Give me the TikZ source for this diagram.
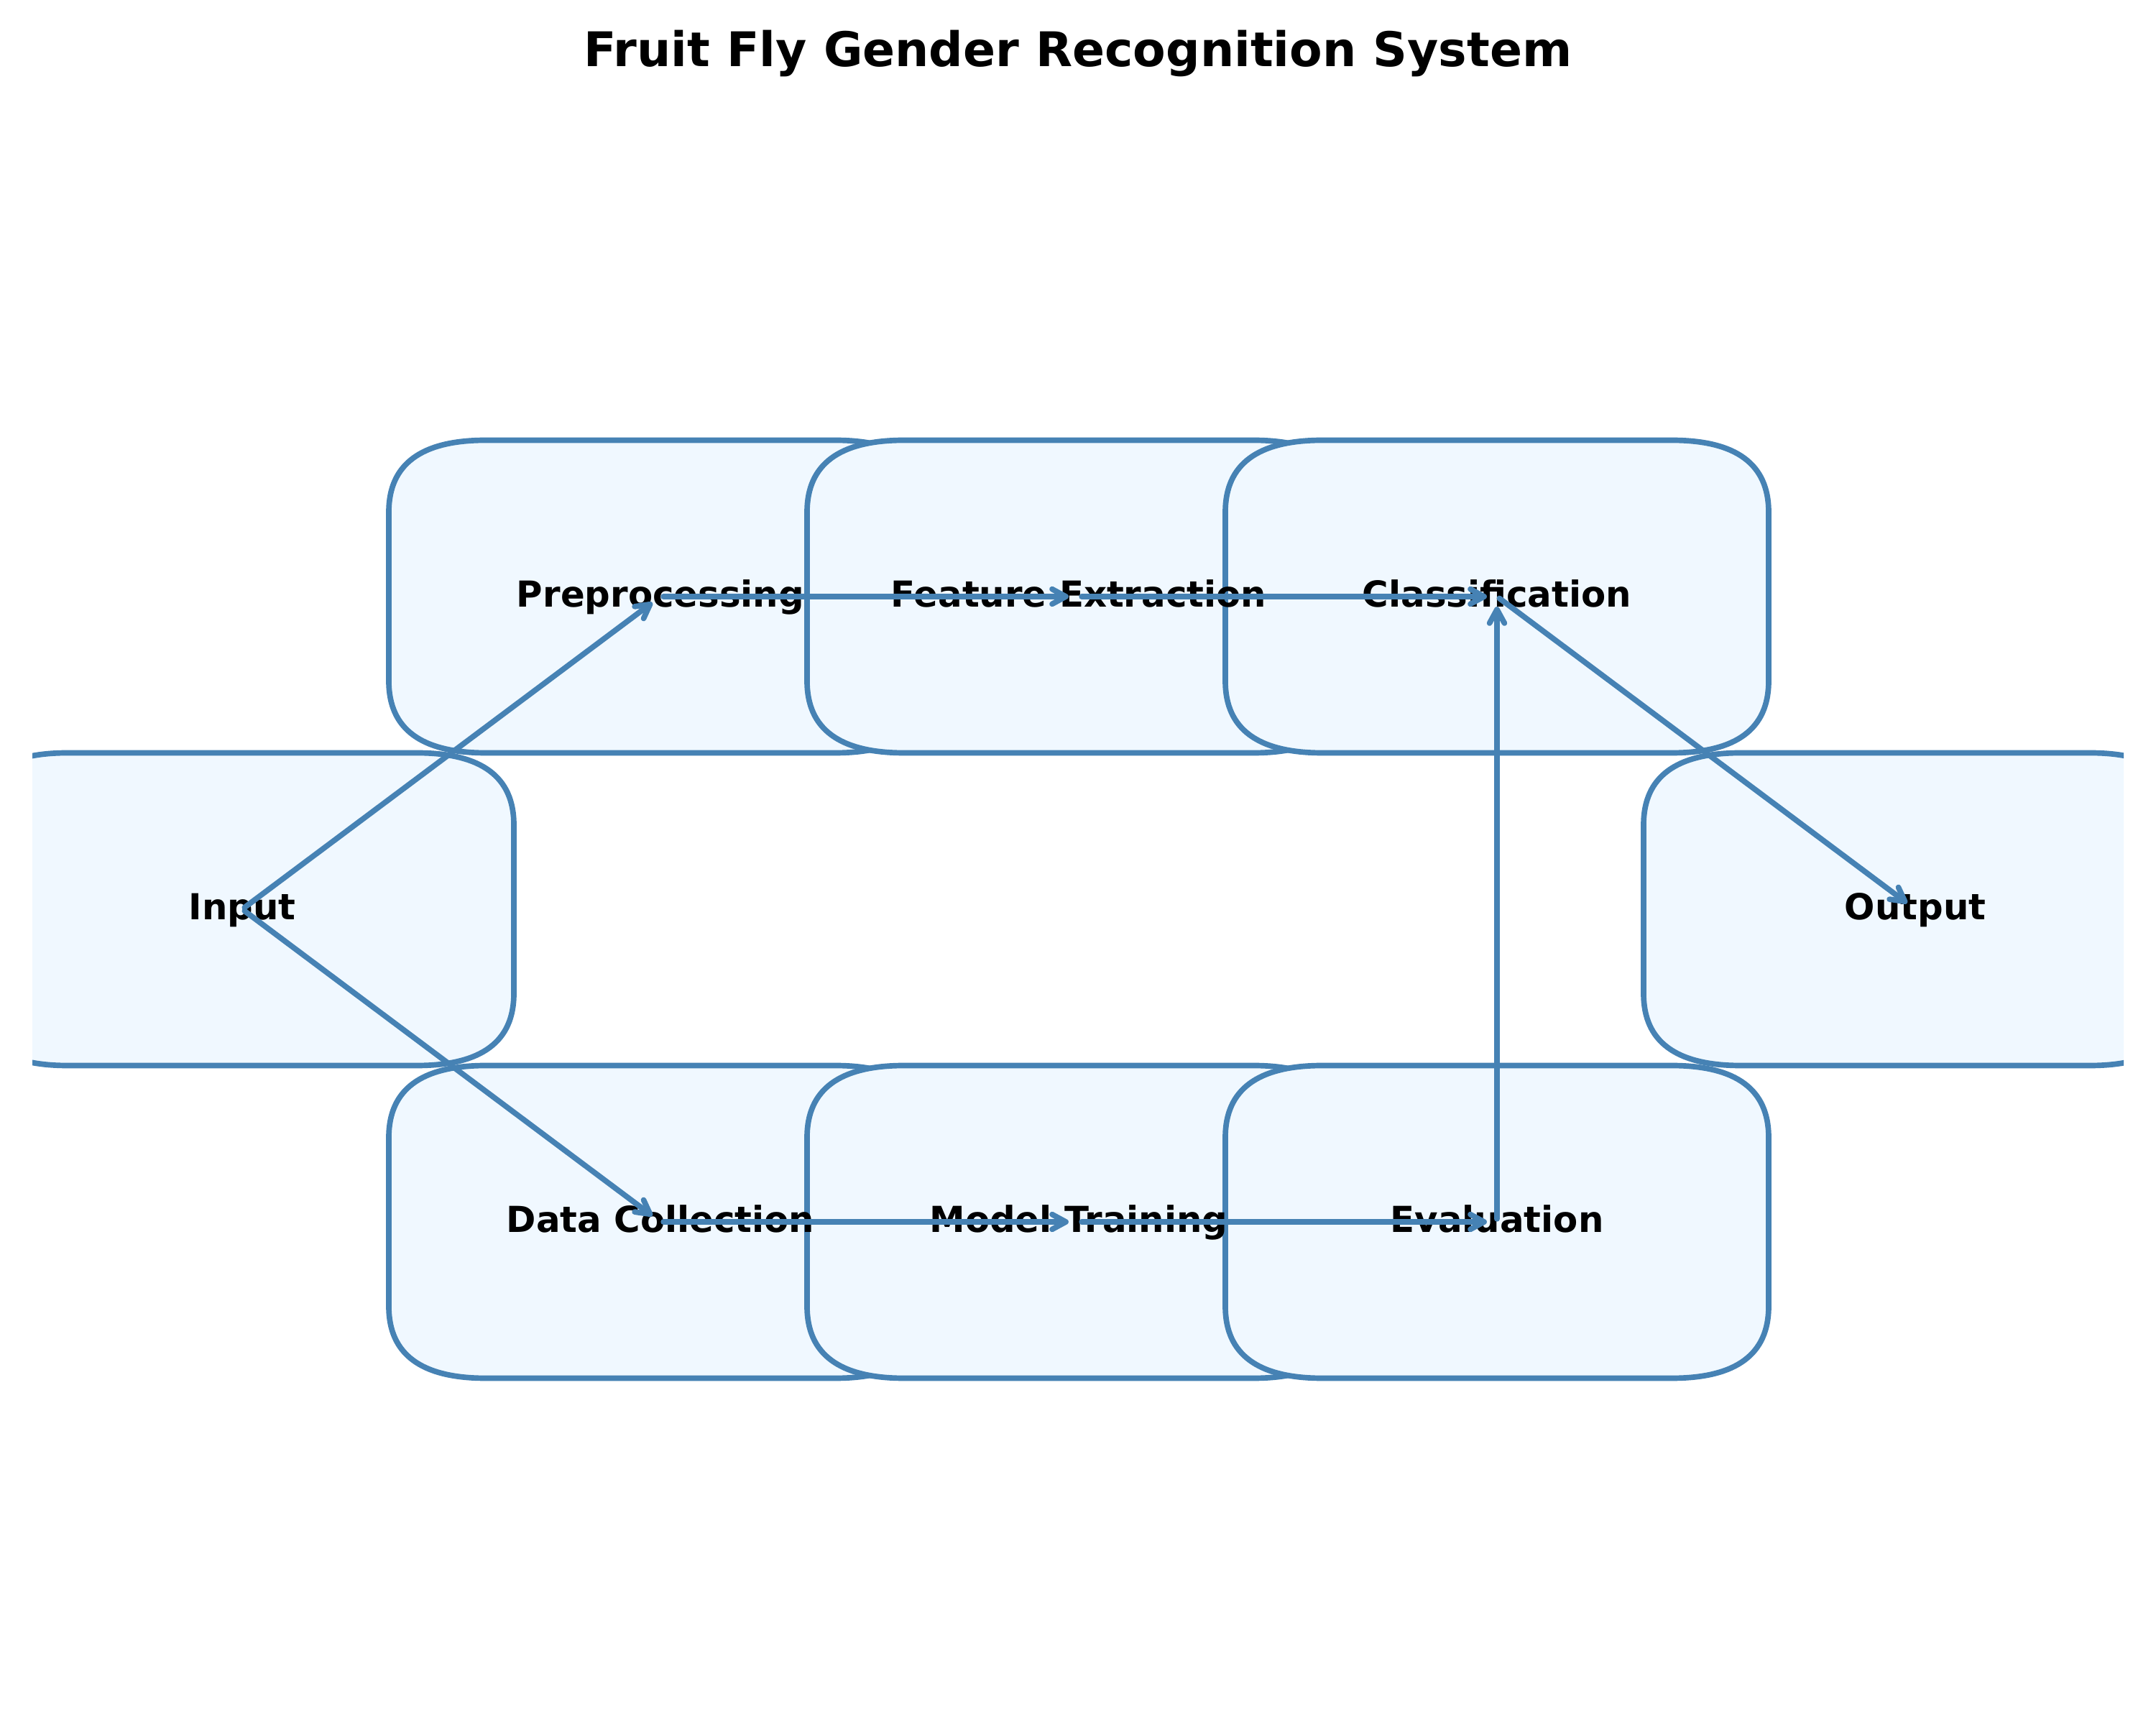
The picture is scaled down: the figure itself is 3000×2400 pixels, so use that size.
\documentclass[tikz,border=0pt]{standalone}
\usepackage{fontspec}
\setmainfont{DejaVu Sans}
\usetikzlibrary{arrows.meta}
\pgfdeclarelayer{background}
\pgfsetlayers{background,main}
\definecolor{edgeblue}{RGB}{70,130,180}
\definecolor{fillblue}{RGB}{240,248,255}
\tikzset{
  lbl/.style={font=\fontsize{12}{14}\selectfont\bfseries, inner sep=0pt, text height=0.76em, text depth=0.04em},
  ttl/.style={font=\fontsize{16}{19}\selectfont\bfseries, inner sep=0pt, anchor=base},
  boxpath/.style={draw=edgeblue, fill=fillblue, line width=1.85pt},
  conn/.style={draw=edgeblue, line width=1.85pt, line cap=round,
    -{Straight Barb[length=4.6pt,width=5pt,round]}, shorten >=3.4pt, shorten <=1pt},
}
\newcommand\roundbox[1]{%
  \path[boxpath, shift={(#1.center)}] (-243,-217.5) -- (243,-217.5)
    .. controls (333,-217.5) and (378,-184.2) .. (378,-117.5) -- (378,117.5)
    .. controls (378,184.2) and (333,217.5) .. (243,217.5) -- (-243,217.5)
    .. controls (-333,217.5) and (-378,184.2) .. (-378,117.5) -- (-378,-117.5)
    .. controls (-378,-184.2) and (-333,-217.5) .. (-243,-217.5) -- cycle;}
\begin{document}
\begin{tikzpicture}[x=0.2409pt, y=-0.2409pt]
\useasboundingbox (0,0) rectangle (3000,2400);
\node[ttl] (title) at (1500,93) {Fruit Fly Gender Recognition System};
\node[lbl] (in)  at (337,1265)  {Input};
\node[lbl] (pre) at (919,830)   {Preprocessing};
\node[lbl] (fe)  at (1501,830)  {Feature Extraction};
\node[lbl] (cl)  at (2083,830)  {Classification};
\node[lbl] (out) at (2665,1265) {Output};
\node[lbl] (dc)  at (919,1700)  {Data Collection};
\node[lbl] (mt)  at (1501,1700) {Model Training};
\node[lbl] (ev)  at (2083,1700) {Evaluation};
\begin{pgfonlayer}{background}
\fill[white] (0,0) rectangle (3000,2400);
\begin{scope}
\clip (45,0) rectangle (2955,2400);
\roundbox{in}
\roundbox{pre}
\roundbox{fe}
\roundbox{cl}
\roundbox{out}
\roundbox{dc}
\roundbox{mt}
\roundbox{ev}
\end{scope}
\end{pgfonlayer}
\draw[conn] (in.center) -- (pre.center);
\draw[conn] (in.center) -- (dc.center);
\draw[conn] (pre.center) -- (fe.center);
\draw[conn] (fe.center) -- (cl.center);
\draw[conn] (cl.center) -- (out.center);
\draw[conn] (dc.center) -- (mt.center);
\draw[conn] (mt.center) -- (ev.center);
\draw[conn] (ev.center) -- (cl.center);
\end{tikzpicture}
\end{document}
